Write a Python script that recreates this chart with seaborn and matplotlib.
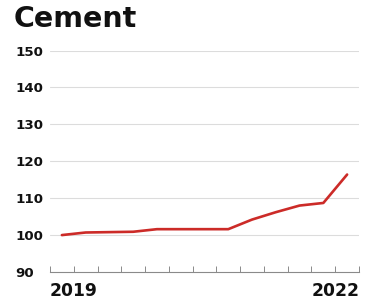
import matplotlib
matplotlib.use("Agg")
import matplotlib.pyplot as plt
import seaborn as sns
import pandas as pd
import numpy as np

# Data (quarterly index, 2019 = 100)
quarters = list(range(13))
values = [100.0, 100.7, 100.8, 100.9, 101.6, 101.6, 101.6, 101.6, 104.2, 106.2, 108.0, 108.7, 116.4]
y_ticks = [90, 100, 110, 120, 130, 140, 150]
x_labels = ["2019", "2022"]
x_label_pos = [0.5, 11.5]
title = "Cement"

sns.set_theme(style="white")
plt.rcParams['font.family'] = ['DejaVu Sans']

df = pd.DataFrame({"q": quarters, "v": values})

fig = plt.figure(figsize=(3.65, 3.03), dpi=100)
ax = fig.add_axes([50/365, 1-272/303, (359-50)/365, (272-50.5)/303])

for yv in y_ticks[1:]:
    ax.axhline(yv, color="#dcdcdc", lw=0.8, zorder=0)

sns.lineplot(data=df, x="q", y="v", ax=ax, color="#cc2b28", lw=1.9, zorder=3)

ax.set_xlim(-0.5, 12.5)
ax.set_ylim(90, 150)
ax.set_xlabel("")
ax.set_ylabel("")

for s in ["top", "right", "left"]:
    ax.spines[s].set_visible(False)
ax.spines["bottom"].set_color("#8a8a8a")
ax.spines["bottom"].set_linewidth(0.8)

ax.set_xticks(np.arange(-0.5, 13, 1.0))
ax.set_xticklabels([])
ax.tick_params(axis="x", direction="in", length=4, width=0.7, color="#8a8a8a", bottom=True)

ax.set_yticks(y_ticks)
ax.set_yticklabels([str(v) for v in y_ticks], fontsize=9.6, fontweight="bold", color="#111111")
ax.tick_params(axis="y", length=0, pad=25)
for lbl in ax.get_yticklabels():
    lbl.set_horizontalalignment("left")

for lab, pos in zip(x_labels, x_label_pos):
    ax.text(pos, -0.045, lab, transform=ax.get_xaxis_transform(), ha="center", va="top",
            fontsize=12.3, fontweight="bold", color="#111111")

fig.text(14/365, 1-5/303, title, ha="left", va="top", fontsize=20.5, fontweight="bold", color="#111111")

fig.savefig("out.png", dpi=100)
